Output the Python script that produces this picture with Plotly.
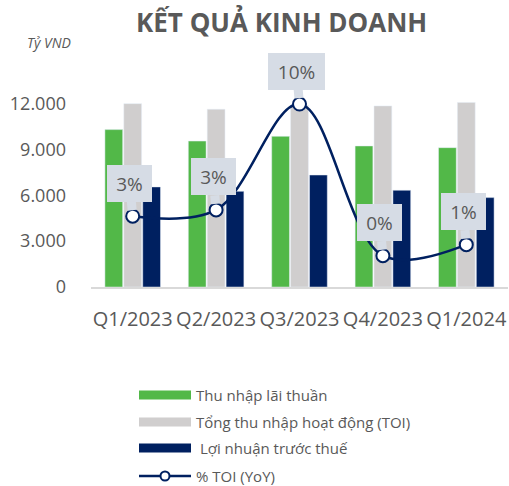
import plotly.graph_objects as go

categories = ["Q1/2023", "Q2/2023", "Q3/2023", "Q4/2023", "Q1/2024"]
thu_nhap_lai_thuan = [10300, 9550, 9860, 9230, 9120]
tong_thu_nhap_toi = [12000, 11630, 11900, 11850, 12080]
loi_nhuan_truoc_thue = [6550, 6260, 7330, 6330, 5850]
toi_yoy_pct = [2.9, 3.3, 10.0, 0.4, 1.1]
y_tick_vals = [0, 3000, 6000, 9000, 12000]
y_tick_text = ["0", "3.000", "6.000", "9.000", "12.000"]

GREEN = "#52B848"
GREY = "#D0CECE"
NAVY = "#002060"
TXT = "#595959"
BOX = "#D6DCE5"
FONT = "Open Sans"

# plot area in pixels
L, R, T, B = 91, 508, 80, 287
W, H = 509, 486
def px(x):
    return (x - L) / (R - L)
def py(y):
    return (B - y) / (B - T)

fig = go.Figure()
fig.add_bar(x=categories, y=thu_nhap_lai_thuan, marker_color=GREEN, name="Thu nhập lãi thuần")
fig.add_bar(x=categories, y=tong_thu_nhap_toi, marker_color=GREY, name="Tổng thu nhập hoạt động (TOI)")
fig.add_bar(x=categories, y=loi_nhuan_truoc_thue, marker_color=NAVY, name="Lợi nhuận trước thuế")
fig.add_scatter(x=categories, y=toi_yoy_pct, yaxis="y2", mode="lines+markers",
                line=dict(color=NAVY, width=2.5, shape="spline", smoothing=1.0),
                marker=dict(size=13, color="white", line=dict(color=NAVY, width=2)),
                name="% TOI (YoY)")

annotations = []
for c, v in zip(categories, toi_yoy_pct):
    label = f"{round(v)}%"
    annotations.append(dict(
        x=c, y=v, xref="x", yref="y2", text=label,
        showarrow=True, arrowhead=0, arrowwidth=9, arrowcolor=BOX,
        ax=-3, ay=-33, standoff=6, bgcolor=BOX, borderpad=2, borderwidth=0,
        width=41 if len(label) <= 2 else 53, height=33,
        font=dict(family=FONT, size=19, color=TXT),
    ))

annotations.append(dict(x=px(281), y=py(22), xref="paper", yref="paper",
                        xanchor="center", yanchor="middle",
                        text="<b>KẾT QUẢ KINH DOANH</b>", showarrow=False,
                        font=dict(family=FONT, size=26, color=TXT)))
annotations.append(dict(x=px(49), y=py(42), xref="paper", yref="paper",
                        xanchor="center", yanchor="middle",
                        text="<i>Tỷ VND</i>", showarrow=False,
                        font=dict(family=FONT, size=14, color=TXT)))

legend_items = [
    ("Thu nhập lãi thuần", GREEN, "bar", 395, 194),
    ("Tổng thu nhập hoạt động (TOI)", GREY, "bar", 422, 194),
    (" Lợi nhuận trước thuế", NAVY, "bar", 448, 194),
    ("% TOI (YoY)", NAVY, "line", 476, 194),
]
shapes = []
for text, col, kind, yc, xt in legend_items:
    if kind == "bar":
        shapes.append(dict(type="rect", xref="paper", yref="paper",
                           x0=px(139), x1=px(191), y0=py(yc - 4.5), y1=py(yc + 4.5),
                           fillcolor=col, line=dict(width=0)))
    else:
        shapes.append(dict(type="line", xref="paper", yref="paper",
                           x0=px(139), x1=px(191), y0=py(yc), y1=py(yc),
                           line=dict(color=col, width=2.5)))
        shapes.append(dict(type="circle", xref="paper", yref="paper",
                           x0=px(160.5), x1=px(169.5), y0=py(yc - 4.5), y1=py(yc + 4.5),
                           fillcolor="white", line=dict(color=col, width=2)))
    annotations.append(dict(x=px(xt), y=py(yc), xref="paper", yref="paper",
                            xanchor="left", yanchor="middle", text=text, showarrow=False,
                            font=dict(family=FONT, size=15, color=TXT)))

fig.update_layout(
    width=W, height=H,
    margin=dict(l=L, r=W - R, t=T, b=H - B),
    paper_bgcolor="white", plot_bgcolor="white",
    barmode="group", bargap=0.32, bargroupgap=0.06,
    showlegend=False,
    font=dict(family=FONT, color=TXT),
    xaxis=dict(type="category", range=[-0.5, 4.5], showgrid=False,
               showline=True, linecolor="#D9D9D9", linewidth=2,
               tickfont=dict(size=20, color=TXT), ticks="", ticklabelstandoff=13),
    yaxis=dict(range=[0, 13547], tickvals=y_tick_vals, ticktext=y_tick_text,
               showgrid=False, zeroline=False, showline=False,
               tickfont=dict(size=18, color=TXT), ticklabelstandoff=24),
    yaxis2=dict(overlaying="y", range=[-1.58, 11.52], visible=False),
    annotations=annotations, shapes=shapes,
)
fig.write_html("out.html", config={"displayModeBar": False},
               post_script="document.body.style.margin='0px';")
